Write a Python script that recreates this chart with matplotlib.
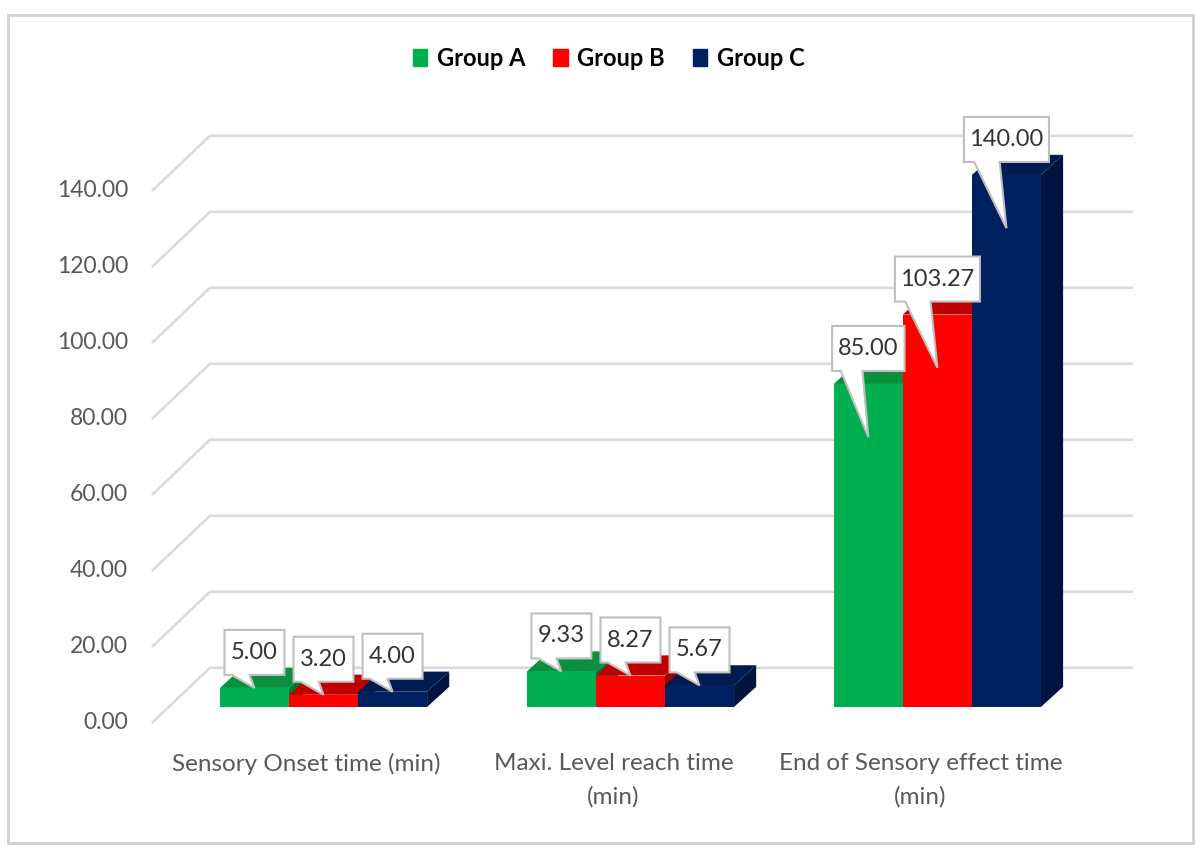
import matplotlib.pyplot as plt
import matplotlib.transforms as mtransforms
from matplotlib.patches import Polygon, Patch, Rectangle

# data
categories = ["Sensory Onset time (min)", "Maxi. Level reach time\n(min)",
              "End of Sensory effect time\n(min)"]
groups = ["Group A", "Group B", "Group C"]
group_a = [5.00, 9.33, 85.00]
group_b = [3.20, 8.27, 103.27]
group_c = [4.00, 5.67, 140.00]
yticks = [0, 20, 40, 60, 80, 100, 120, 140]

front_colors = ["#00B050", "#FF0000", "#002060"]
top_colors = ["#0A8F3E", "#C00000", "#001A52"]
side_colors = ["#007A33", "#A00000", "#00143F"]

plt.rcParams['font.family'] = ['Lato', 'DejaVu Sans']

fig = plt.figure(figsize=(11.98, 8.46), dpi=100)
ax = fig.add_axes([0, 0, 1, 1])
ax.set_xlim(-1.054, 2.849)
ax.set_ylim(-36.6, 186.05)
ax.axis('off')

# fake 3d geometry (x in category units, y in data units)
bar_w = 0.225
bar_dx, bar_dv = 0.072, 5.3        # depth of one bar
front_dx, front_dv = -0.055, -4.2  # floor front edge vs bar faces
floor_dx, floor_dv = 0.189, 14.5   # floor front edge -> back wall
grid_x0, grid_x1 = -0.559, 2.637

# gridlines: diagonal on the side wall, then flat along the back wall
for v in yticks:
    ax.plot([grid_x0, grid_x0 + floor_dx, grid_x1],
            [v + front_dv, v + front_dv + floor_dv, v + front_dv + floor_dv],
            color="#D9D9D9", lw=1.8, zorder=1, solid_capstyle='butt')
    ax.text(grid_x0 - 0.078, v + front_dv, f"{v:.2f}", ha='right', va='center',
            fontsize=16.5, color="#595959")

for i, cat in enumerate(categories):
    ax.text(i + front_dx, -12.2, cat, ha='center', va='top', fontsize=17.5,
            color="#595959", linespacing=1.7)

series = [group_a, group_b, group_c]

# bars: side + top faces first, fronts on top
for i in range(len(categories)):
    for j, vals in enumerate(series):
        v = vals[i]
        x0 = i + (j - 1.5) * bar_w
        x1 = x0 + bar_w
        ax.add_patch(Polygon([(x1, 0), (x1 + bar_dx, bar_dv), (x1 + bar_dx, v + bar_dv), (x1, v)],
                             closed=True, fc=side_colors[j], ec='none', zorder=2))
        ax.add_patch(Polygon([(x0, v), (x1, v), (x1 + bar_dx, v + bar_dv), (x0 + bar_dx, v + bar_dv)],
                             closed=True, fc=top_colors[j], ec='none', zorder=2))

for j, vals in enumerate(series):
    xs = [i + (j - 1) * bar_w for i in range(len(categories))]
    ax.bar(xs, vals, width=bar_w, color=front_colors[j], zorder=3, label=groups[j])

# callout labels
px = 1 / 100.0
for i in range(len(categories)):
    for j, vals in enumerate(series):
        v = vals[i]
        xc = i + (j - 1) * bar_w
        tip_v = v - 14 if v > 20 else v
        drop = (v - tip_v) * 3.8          # px between bar top and pointer tip
        label = f"{v:.2f}"
        w = 10 + 12.5 * len(label)
        h = 45
        bottom = drop + 13
        top = bottom + h
        left, right = -w / 2, w / 2
        shape = [(left, bottom), (-0.38 * w, bottom), (0, 0), (-0.08 * w, bottom),
                 (right, bottom), (right, top), (left, top)]
        shape = [(a * px, b * px) for a, b in shape]
        trans = fig.dpi_scale_trans + mtransforms.ScaledTranslation(xc, tip_v, ax.transData)
        ax.add_patch(Polygon(shape, closed=True, fc='white', ec='#BFBFBF', lw=1.5,
                             transform=trans, zorder=5))
        ax.annotate(label, xy=(xc, tip_v), xytext=(0, (bottom + h / 2) * 0.72),
                    textcoords='offset points', ha='center', va='center',
                    fontsize=17, color="#333333", zorder=6)

handles = [Patch(color=c) for c in front_colors]
fig.legend(handles, groups, loc='center', bbox_to_anchor=(0.508, 0.931), ncol=3,
           frameon=False, prop={'weight': 'bold', 'size': 17},
           handlelength=0.6, handleheight=0.75, handletextpad=0.4, columnspacing=1.2)

# chart border
fig.patches.append(Rectangle((8 / 1198, 3 / 846), 1185 / 1198, 828 / 846,
                             transform=fig.transFigure, fill=False,
                             ec='#D0D0D0', lw=2))

fig.savefig("out.png", dpi=100)
